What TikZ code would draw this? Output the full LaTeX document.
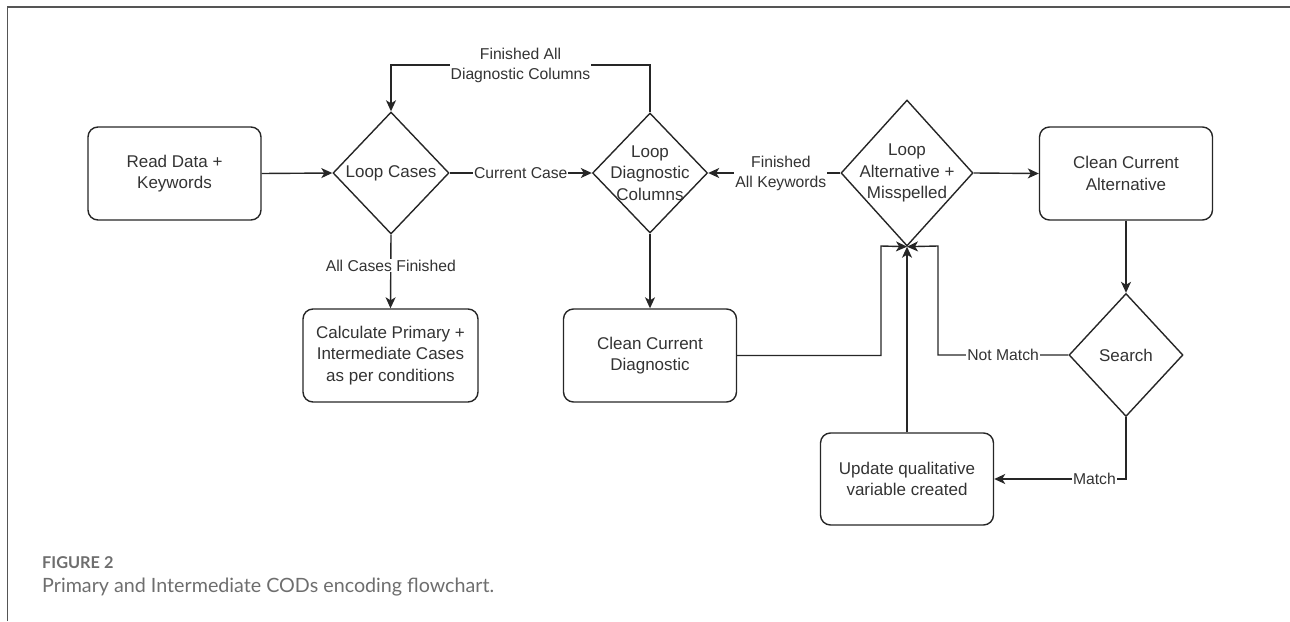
\documentclass[tikz,border=0pt]{standalone}
\usepackage{fontspec}
\setmainfont{Liberation Sans}
\newfontfamily\capfont{Lato}
\usetikzlibrary{shapes.geometric,arrows.meta}
\definecolor{txt}{HTML}{333333}
\definecolor{framegray}{HTML}{555555}
\definecolor{capgray}{HTML}{6E6E6E}
\begin{document}
\begin{tikzpicture}[x=1pt,y=-1pt,
 proc/.style={draw=black!85, line width=1.4pt, rounded corners=10pt, minimum width=173pt, minimum height=93pt, align=center, text=txt, font=\fontsize{17}{21.5}\selectfont, inner sep=0pt},
 dec/.style={draw=black!85, diamond, line width=1.4pt, inner sep=0pt},
 dtext/.style={align=center, text=txt, font=\fontsize{17}{21.5}\selectfont, inner sep=0pt},
 lbl/.style={fill=white, align=center, text=txt, font=\fontsize{15.7}{20}\selectfont, inner sep=1pt},
 conn/.style={draw=black!85, line width=1.4pt},
 arr/.style={conn, -{Stealth[length=11pt,width=10pt,inset=3pt]}}
]
\path[use as bounding box] (0,0) rectangle (1290,621);
\draw[framegray, line width=1.5pt] (7.5,621) -- (7.5,7) -- (1290,7);

% nodes
\node[proc] (read) at (174.5,173.5) {Read Data +\\Keywords};
\node[dec, minimum width=116pt, minimum height=122pt] (lc) at (391,173) {};
\node[dtext] (lct) at (lc) {Loop Cases};
\node[dec, minimum width=115pt, minimum height=120pt] (ldc) at (650,173) {};
\node[dtext] (ldct) at (ldc) {Loop\\Diagnostic\\Columns};
\node[dec, minimum width=132pt, minimum height=146pt] (la) at (907,173) {};
\node[dtext] (lat) at (la) {Loop\\Alternative +\\Misspelled};
\node[proc] (cca) at (1126,173.5) {Clean Current\\Alternative};
\node[dec, minimum width=114pt, minimum height=123pt] (se) at (1126,355) {};
\node[dtext] (set) at (se) {Search};
\node[proc] (ccd) at (650,355.5) {Clean Current\\Diagnostic};
\node[proc, minimum width=175pt] (calc) at (390.5,355.5) {Calculate Primary +\\Intermediate Cases\\as per conditions};
\node[proc, minimum height=92pt] (upd) at (907,479) {Update qualitative\\variable created};

\coordinate (jl) at (881,246);
\coordinate (jr) at (938,246);
\coordinate (top) at (0,65);

% connectors
\draw[arr] (read.east) -- (lc.west);
\draw[arr] (lc.east) -- node[lbl]{Current Case} (ldc.west);
\draw[arr] (ldc.north) -- (ldc.north |- top) -- node[lbl]{Finished All\\Diagnostic Columns} (lc.north |- top) -- (lc.north);
\draw[arr] (lc.south) -- node[lbl, pos=0.42]{All Cases Finished} (calc.north);
\draw[arr] (la.west) -- node[lbl, pos=0.45]{Finished\\All Keywords} (ldc.east);
\draw[arr] (la.east) -- (cca.west);
\draw[arr] (ldc.south) -- (ccd.north);
\draw[arr] (cca.south) -- (se.north);
\draw[arr] (ccd.east) -| (jl) -- (la.south);
\draw[arr] (se.west) -- node[lbl]{Not Match} (se.west -| jr) -- (jr) -- (la.south);
\draw[arr] (upd.north) -- (la.south);
\draw[arr] (se.south) |- node[lbl, pos=0.62]{Match} (upd.east);

% caption
\node[anchor=base west, inner sep=0pt, text=capgray, font=\capfont\bfseries\fontsize{16.3}{19}\selectfont] (cap1) at (42,568) {FIGURE 2};
\node[anchor=base west, inner sep=0pt, text=capgray, font=\capfont\fontsize{19.7}{23}\selectfont] (cap2) at (42,592) {Primary and Intermediate CODs encoding flowchart.};
\end{tikzpicture}
\end{document}
